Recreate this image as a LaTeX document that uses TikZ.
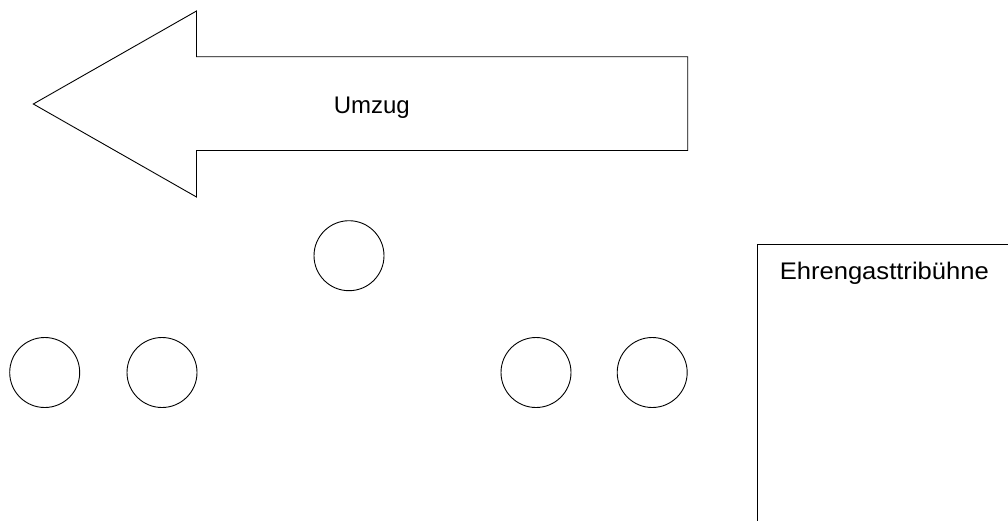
\documentclass[tikz,border=0pt]{standalone}
\usepackage{fontspec}
\setmainfont{Liberation Sans}
\begin{document}
\begin{tikzpicture}[x=1pt,y=-1pt,
  line width=0.9pt,
  person/.style={draw, circle, minimum size=70pt, inner sep=0pt, line width=0.9pt},
  lbl/.style={inner sep=0pt, anchor=base west, font=\fontsize{24}{28}\selectfont}]
\clip (0,0) rectangle (1008,520);
\useasboundingbox (0,0) rectangle (1008,520);
\fill[white] (0,0) rectangle (1008,520);
% arrow
\draw[line join=miter] (33.3,104) -- (196.5,11) -- (196.5,56.7) -- (687.7,56.7) -- (687.7,150.5) -- (196.5,150.5) -- (196.5,197) -- cycle;
\node[lbl] (umzug) at (333.3,113.3) {Umzug};
% circles
\node[person] (p1) at (349,255.7) {};
\node[person] (p2) at (44.7,372.5) {};
\node[person] (p3) at (162,372.5) {};
\node[person] (p4) at (536,372.5) {};
\node[person] (p5) at (652.2,372.5) {};
% stand
\draw (757.3,244) rectangle (1015,530);
\node[lbl] (tribuene) at (779.3,279) {\scalebox{1.066}[1]{Ehrengasttribühne}};
\end{tikzpicture}
\end{document}
